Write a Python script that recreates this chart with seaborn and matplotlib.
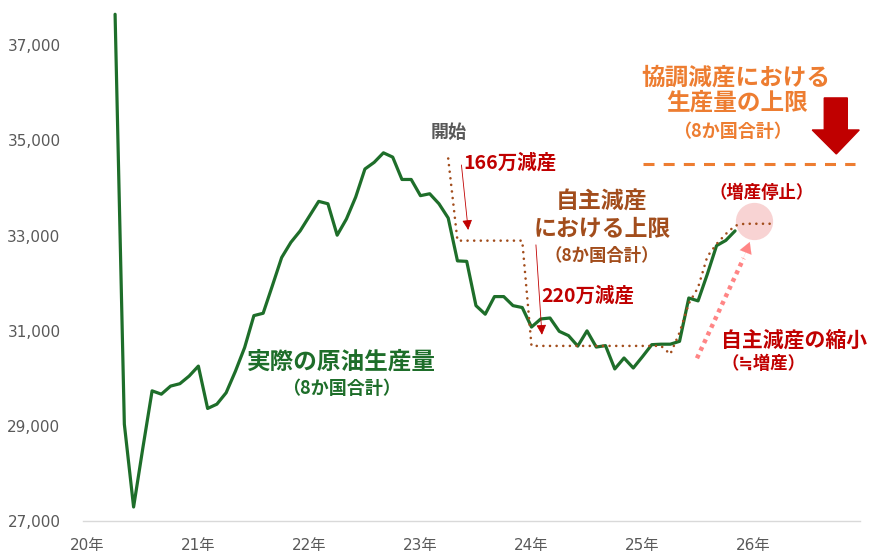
import numpy as np
import pandas as pd
import seaborn as sns
import matplotlib.pyplot as plt
from matplotlib.patches import Polygon

sns.set_style('white')
plt.rcParams['font.family'] = ['Noto Sans CJK JP', 'DejaVu Sans']

# monthly crude production of the 8 countries (kb/d)
prod_months = pd.period_range('2020-04', '2025-11', freq='M')
production = [
    37650, 29040, 27300, 28540, 29740, 29670, 29840, 29890, 30050,
    30260, 29370, 29460, 29700, 30150, 30650, 31320, 31370, 31950, 32540, 32860, 33100,
    33410, 33720, 33670, 33010, 33350, 33810, 34400, 34540, 34740, 34650, 34180, 34180,
    33840, 33880, 33670, 33370, 32470, 32460, 31530, 31350, 31720, 31720, 31530, 31490,
    31080, 31250, 31270, 30990, 30900, 30680, 31000, 30660, 30690, 30200, 30430, 30220,
    30460, 30710, 30720, 30720, 30780, 31690, 31630, 32190, 32790, 32900, 33100,
]

# ceiling under the voluntary cuts (8 countries)
cap_months = pd.period_range('2023-04', '2026-03', freq='M')
voluntary_cap = [
    34620,
    32895, 32895, 32895, 32895, 32895, 32895, 32895, 32895,
    30684, 30684, 30684, 30684, 30684, 30684, 30684, 30684, 30684, 30684, 30684, 30684,
    30684, 30684, 30684,
    30510, 30965, 31575, 31910, 32560, 32825, 33035, 33210,
    33250, 33250, 33250, 33250,
]

# ceiling under the coordinated cuts
coord_months = pd.period_range('2025-01', '2026-12', freq='M')[[0, -1]]
coord_cap = [34510, 34510]

year_labels = ['20年', '21年', '22年', '23年', '24年', '25年', '26年']
y_ticks = [27000, 29000, 31000, 33000, 35000, 37000]


def month_pos(periods):
    # months since Jan 2020, point in the middle of the month
    return [(p.year - 2020) * 12 + (p.month - 1) + 0.5 for p in periods]


green = '#1E6E2A'
brown = '#A24D1C'
orange = '#ED7D31'
red = '#C00000'
grey = '#595959'
pink = '#FF8585'

prod_df = pd.DataFrame({'x': month_pos(prod_months), 'value': production})
cap_df = pd.DataFrame({'x': month_pos(cap_months), 'value': voluntary_cap})
coord_df = pd.DataFrame({'x': month_pos(coord_months), 'value': coord_cap})

fig = plt.figure(figsize=(8.77, 5.58), dpi=100)
ax = fig.add_axes([0.0943, 0.0658, 0.8863, 0.9342])

# circle behind the end of the ceiling line
ax.scatter([72.54], [33315], s=720, color='#F8D3D3', zorder=1, linewidths=0)

sns.lineplot(data=prod_df, x='x', y='value', ax=ax, color=green, lw=2.3,
             errorbar=None, sort=False, zorder=3)
sns.lineplot(data=cap_df, x='x', y='value', ax=ax, color=brown, lw=1.9,
             errorbar=None, sort=False, linestyle=(0, (0.01, 2.5)),
             dash_capstyle='round', zorder=4)
sns.lineplot(data=coord_df, x='x', y='value', ax=ax, color=orange, lw=2.2,
             errorbar=None, sort=False, linestyle=(0, (3.6, 3.0)), zorder=2)

ax.set_xlim(0, 84)
ax.set_ylim(27000, 37950)
ax.set_xlabel('')
ax.set_ylabel('')

ax.set_yticks(y_ticks)
ax.set_yticklabels(['{:,}'.format(v) for v in y_ticks], family='DejaVu Sans')
ax.tick_params(axis='y', length=0, pad=16, labelsize=11, labelcolor=grey)

ax.set_xticks(np.arange(0, 85, 12))
ax.set_xticklabels([])
ax.set_xticks(np.arange(0, 73, 12) + 0.5, minor=True)
ax.set_xticklabels(year_labels, minor=True, family=['DejaVu Sans', 'Noto Sans CJK JP'])
ax.tick_params(axis='x', which='major', length=5, color='#D9D9D9', width=1)
ax.tick_params(axis='x', which='minor', length=0, pad=12, labelsize=11, labelcolor=grey)

sns.despine(ax=ax, left=True, top=True, right=True)
ax.spines['bottom'].set_color('#D9D9D9')
ax.spines['bottom'].set_linewidth(1)

bold = dict(ha='center', va='center', fontweight='bold')
ax.text(70.57, 36330, '協調減産における', fontsize=17, color=orange, **bold)
ax.text(70.74, 35786, '生産量の上限', fontsize=17, color=orange, **bold)
ax.text(70.25, 35178, '（8か国合計）', fontsize=13, color=orange, **bold)

ax.text(39.57, 35158, '開始', fontsize=13, color=grey, **bold)
ax.text(46.17, 34527, '166万減産', fontsize=14, color=red, **bold)
ax.text(54.63, 31733, '220万減産', fontsize=14, color=red, **bold)

ax.text(56.1, 33714, '自主減産', fontsize=16.5, color=brown, **bold)
ax.text(56.16, 33120, 'における上限', fontsize=16.5, color=brown, **bold)
ax.text(56.14, 32573, '（8か国合計）', fontsize=12.5, color=brown, **bold)

ax.text(73.33, 33897, '（増産停止）', fontsize=12.5, color=red, **bold)
ax.text(76.84, 30809, '自主減産の縮小', fontsize=15, color=red, **bold)
ax.text(73.6, 30305, '（≒増産）', fontsize=12.5, color=red, **bold)

ax.text(27.92, 30347, '実際の原油生産量', fontsize=17, color=green, **bold)
ax.text(27.98, 29779, '（8か国合計）', fontsize=13, color=green, **bold)

# thin arrows pointing at the cuts
for start, tip in [((40.93, 34485), (41.66, 33120)), ((48.98, 32807), (49.63, 30918))]:
    ax.annotate('', xy=tip, xytext=start,
                arrowprops=dict(arrowstyle='-|>,head_length=0.6,head_width=0.3',
                                color=red, lw=0.6, shrinkA=0, shrinkB=0))

# dotted pink arrow for the shrinking cuts
ax.plot([66.38, 71.42], [30424, 32525], color=pink, lw=3.2,
        linestyle=(0, (0.9, 1.0)), zorder=5)
ax.annotate('', xy=(72.09, 32868), xytext=(71.3, 32480),
            arrowprops=dict(arrowstyle='-|>,head_length=0.8,head_width=0.45',
                            color=pink, lw=0.1, shrinkA=0, shrinkB=0), zorder=5)

# block arrow pointing down to the coordinated ceiling
block = Polygon([(80.14, 35893), (82.63, 35893), (82.63, 35220), (83.92, 35220),
                 (81.44, 34716), (78.84, 35220), (80.14, 35220)],
                closed=True, color=red, zorder=5)
ax.add_patch(block)

fig.savefig('out.png', dpi=100)
